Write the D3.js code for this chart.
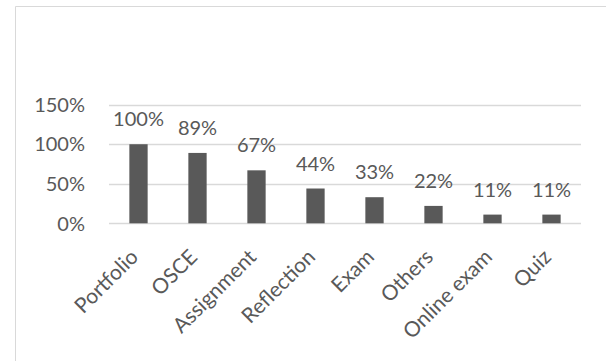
<!DOCTYPE html>
<html><head><meta charset="utf-8">
<script src="https://cdn.jsdelivr.net/npm/d3@7"></script>
<style>body{margin:0;background:#fff}svg{display:block}</style>
</head><body>
<script>
const categories = ["Portfolio","OSCE","Assignment","Reflection","Exam","Others","Online exam","Quiz"];
const values = [1.00,0.89,0.67,0.44,0.33,0.22,0.11,0.11];
const valueLabels = ["100%","89%","67%","44%","33%","22%","11%","11%"];
const yTicks = [0,0.5,1.0,1.5];

const W=606,H=361;
const svg=d3.select("body").append("svg").attr("width",W).attr("height",H);
const font="Lato, 'Open Sans', sans-serif";
const col="#595959";

// chart frame
svg.append("path").attr("d",`M15.5,${H} V6.5 H${W}`).attr("fill","none").attr("stroke","#d9d9d9").attr("stroke-width",1);

const x=d3.scaleBand().domain(categories).range([109,581]).paddingInner(0.69).paddingOuter(0.345);
const y=d3.scaleLinear().domain([0,1.5]).range([223.3,104.7]);

// gridlines
svg.append("g").selectAll("line").data(yTicks).join("line")
 .attr("x1",109).attr("x2",581).attr("y1",d=>Math.round(y(d))+0.5).attr("y2",d=>Math.round(y(d))+0.5)
 .attr("stroke","#d9d9d9").attr("stroke-width",1.3);

// y axis labels
svg.append("g").selectAll("text").data(yTicks).join("text")
 .attr("x",85).attr("y",d=>y(d)).attr("dy","0.36em").attr("text-anchor","end")
 .attr("font-family",font).attr("font-size",20).attr("fill",col)
 .text(d3.format(".0%"));

// bars
svg.append("g").selectAll("rect").data(values).join("rect")
 .attr("x",(d,i)=>x(categories[i])).attr("width",x.bandwidth())
 .attr("y",d=>y(d)).attr("height",d=>y(0)-y(d)).attr("fill",col);

// value labels
svg.append("g").selectAll("text").data(values).join("text")
 .attr("x",(d,i)=>x(categories[i])+x.bandwidth()/2).attr("y",d=>y(d)-18)
 .attr("text-anchor","middle").attr("font-family",font).attr("font-size",20).attr("fill",col)
 .text((d,i)=>valueLabels[i]);

// category labels
svg.append("g").selectAll("text").data(categories).join("text")
 .attr("transform",d=>`translate(${x(d)+x.bandwidth()/2+1},${y(0)+35}) rotate(-45)`)
 .attr("text-anchor","end").attr("font-family",font).attr("font-size",21).attr("fill",col)
 .text(d=>d);
</script>
</body></html>
